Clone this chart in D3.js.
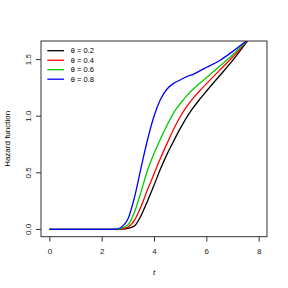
<!DOCTYPE html>
<html lang="en">
<head>
  <meta charset="UTF-8">
  <title>Hazard function</title>
  <script src="https://d3js.org/d3.v7.min.js"></script>
  <style>
    body { margin: 0; background: #fff; }
    text { font-family: "Liberation Sans", Arial, sans-serif; }
  </style>
</head>
<body>
  <script>
    var width = 288;
    var height = 288;

    // time grid
    var tValues = [0, 0.5, 1, 1.5, 2, 2.5, 2.75, 3, 3.25, 3.5, 3.75, 4, 4.25, 4.5, 4.75, 5, 5.25, 5.5, 5.75, 6, 6.5, 7, 7.5, 8];

    // hazard values, one array per theta
    var h02 = [0, 0, 0, 0, 0, 0, 0.003, 0.01, 0.03, 0.12, 0.25, 0.39, 0.535, 0.665, 0.78, 0.89, 0.99, 1.075, 1.15, 1.22, 1.355, 1.49, 1.64, 1.79];
    var h04 = [0, 0, 0, 0, 0, 0, 0.005, 0.02, 0.08, 0.20, 0.35, 0.49, 0.63, 0.76, 0.885, 0.995, 1.085, 1.16, 1.225, 1.285, 1.405, 1.52, 1.65, 1.78];
    var h06 = [0, 0, 0, 0, 0, 0, 0.01, 0.04, 0.15, 0.33, 0.52, 0.67, 0.80, 0.92, 1.03, 1.11, 1.18, 1.24, 1.29, 1.34, 1.44, 1.54, 1.655, 1.77];
    var h08 = [0, 0, 0, 0, 0, 0, 0.02, 0.09, 0.28, 0.54, 0.79, 1.00, 1.15, 1.24, 1.29, 1.32, 1.35, 1.37, 1.40, 1.43, 1.49, 1.57, 1.66, 1.76];

    var thetas = ["0.2", "0.4", "0.6", "0.8"];
    var colors = ["#000000", "#FF0000", "#00CD00", "#0000FF"];
    var series = [h02, h04, h06, h08];

    var xTicks = [0, 2, 4, 6, 8];
    var yTicks = [0, 0.5, 1, 1.5];
    var yTickLabels = ["0.0", "0.5", "1.0", "1.5"];

    var plotLeft = 41, plotRight = 267, plotTop = 41, plotBottom = 236.7;

    var x = d3.scaleLinear().domain([-0.32, 8.32]).range([plotLeft, plotRight]);
    var y = d3.scaleLinear().domain([-0.064, 1.664]).range([plotBottom, plotTop]);

    var svg = d3.select("body")
                .append("svg")
                .attr("width", width)
                .attr("height", height);

    svg.append("clipPath")
       .attr("id", "plot-clip")
       .append("rect")
       .attr("x", plotLeft)
       .attr("y", plotTop)
       .attr("width", plotRight - plotLeft)
       .attr("height", plotBottom - plotTop);

    var line = d3.line()
                 .x(d => x(d[0]))
                 .y(d => y(d[1]))
                 .curve(d3.curveMonotoneX);

    svg.append("g")
       .attr("clip-path", "url(#plot-clip)")
       .selectAll("path")
       .data(series)
       .enter()
       .append("path")
       .attr("d", s => line(s.map((v, i) => [tValues[i], v])))
       .attr("fill", "none")
       .attr("stroke", (s, i) => colors[i])
       .attr("stroke-width", 1.3);

    // box
    svg.append("rect")
       .attr("x", plotLeft)
       .attr("y", plotTop)
       .attr("width", plotRight - plotLeft)
       .attr("height", plotBottom - plotTop)
       .attr("fill", "none")
       .attr("stroke", "#333")
       .attr("stroke-width", 1);

    // x axis
    var xAxis = d3.axisBottom(x)
                  .tickValues(xTicks)
                  .tickSize(5)
                  .tickPadding(7)
                  .tickFormat(d3.format("d"));

    var gx = svg.append("g")
                .attr("transform", "translate(0," + plotBottom + ")")
                .call(xAxis);
    gx.select(".domain").remove();
    gx.selectAll("line").attr("stroke", "#333");
    gx.selectAll("text")
      .attr("font-size", 8)
      .attr("fill", "#222")
      .style("font-family", "'Liberation Sans', Arial, sans-serif");

    // y axis (labels parallel to axis, as in R)
    var gy = svg.append("g");
    gy.selectAll("line")
      .data(yTicks)
      .enter()
      .append("line")
      .attr("x1", plotLeft - 5)
      .attr("x2", plotLeft)
      .attr("y1", d => y(d))
      .attr("y2", d => y(d))
      .attr("stroke", "#333");
    gy.selectAll("text")
      .data(yTicks)
      .enter()
      .append("text")
      .attr("transform", d => "translate(31," + y(d) + ") rotate(-90)")
      .attr("text-anchor", "middle")
      .attr("font-size", 8)
      .attr("fill", "#222")
      .text((d, i) => yTickLabels[i]);

    // axis titles
    svg.append("text")
       .attr("x", (plotLeft + plotRight) / 2)
       .attr("y", 275)
       .attr("text-anchor", "middle")
       .attr("font-size", 8)
       .attr("font-style", "italic")
       .text("t");

    svg.append("text")
       .attr("transform", "translate(9.5," + (plotTop + plotBottom) / 2 + ") rotate(-90)")
       .attr("text-anchor", "middle")
       .attr("font-size", 8)
       .text("Hazard function");

    // legend
    var legend = svg.append("g")
                    .selectAll("g")
                    .data(thetas)
                    .enter()
                    .append("g")
                    .attr("transform", (d, i) => "translate(0," + (50.7 + i * 9.5) + ")");

    legend.append("line")
          .attr("x1", 47.3)
          .attr("x2", 64)
          .attr("stroke", (d, i) => colors[i])
          .attr("stroke-width", 1.3);

    legend.append("text")
          .attr("x", 70.7)
          .attr("dy", "0.35em")
          .attr("font-size", 7.5)
          .text(d => "\u03B8 = " + d);
  </script>
</body>
</html>
